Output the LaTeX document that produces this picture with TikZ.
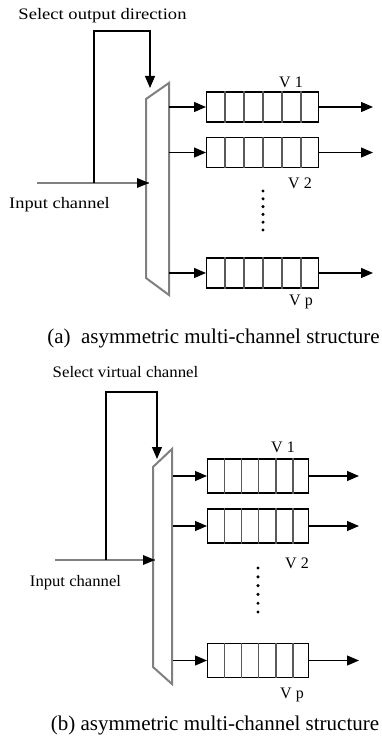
\documentclass[tikz,border=0pt]{standalone}
\usepackage{fontspec}
\setmainfont{Liberation Serif}
\usetikzlibrary{arrows.meta}

\tikzset{
  lbl/.style={inner sep=0pt, font=\fontsize{16}{16}\selectfont},
  captext/.style={inner sep=0pt, font=\fontsize{21}{21}\selectfont},
  muxline/.style={draw=black!50, line width=2pt, line join=miter},
  inline/.style={draw=black!50, line width=2pt},
  wire/.style={draw=black, line width=1.1pt},
  tip/.style={-{Triangle[length=12pt,width=10pt]}},
  queue/.style={draw=black, line width=1.2pt, fill=white, inner sep=0pt},
  cell/.style={draw=black!65, line width=1.4pt},
  dot/.style={fill=black}
}

\begin{document}
\begin{tikzpicture}[x=1pt, y=-1pt]
\useasboundingbox (0,0) rectangle (381,746);
\fill[white] (0,0) rectangle (381,746);

% ================= (a) =================
\node[lbl] (ta) at (102.5,16) {\scalebox{1.16}[1]{Select output direction}};
\node[lbl] (ina) at (59.5,205) {\scalebox{1.15}[1]{Input channel}};

% multiplexer outline
\coordinate (ma-lt) at (146,99);
\coordinate (ma-rt) at (169,83);
\coordinate (ma-lb) at (146,278);
\coordinate (ma-rb) at (169,295);
\draw[muxline] (ma-rt) -- (ma-lt) -- (ma-lb) -- (ma-rb) -- cycle;

% input channel and selection loop
\coordinate (ia-s) at (37,183);
\coordinate (ia-e) at (149,183);
\coordinate (ia-j) at (94,183);
\coordinate (sa-1) at (94,31);
\coordinate (sa-2) at (150,31);
\coordinate (sa-e) at (150,88);
\draw[inline] (ia-s) -- (ia-e);
\draw[wire, tip] (ia-j) -- (sa-1) -- (sa-2) -- (sa-e);
\fill (ia-e) -- ++(-12,-5) -- ++(0,10) -- cycle;

% virtual channel queues
\foreach \n/\y in {qa1/107, qa2/152.5, qap/273}{
  \node[queue, minimum width=112pt, minimum height=30pt, anchor=west] (\n) at (206,\y) {};
  \foreach \i in {1,...,5}
    \draw[cell] ([xshift=\i*19pt]\n.north west) -- ([xshift=\i*19pt]\n.south west);
  \coordinate (\n-in) at (169,\y);
  \coordinate (\n-out) at (373,\y);
  \draw[wire, tip] (\n-in) -- (\n.west);
  \draw[wire, tip] (\n.east) -- (\n-out);
}
\node[lbl] (va1) at (291,82) {V 1};
\node[lbl] (va2) at (300,183) {V 2};
\node[lbl] (vap) at (301,302) {V p};
\foreach \k in {0,...,5}
  \fill[dot] (263,191+\k*7.8) circle (1.7pt);

\node[captext] (capa) at (213.5,338) {(a)\ \ asymmetric multi-channel structure};

% ================= (b) =================
\node[lbl] (tb) at (125.5,372) {\scalebox{1.05}[1]{Select virtual channel}};
\node[lbl] (inb) at (75.5,583) {\scalebox{1.04}[1]{Input channel}};

\coordinate (mb-lt) at (153,467);
\coordinate (mb-rt) at (172,449);
\coordinate (mb-lb) at (153,667);
\coordinate (mb-rb) at (172,684);
\draw[muxline] (mb-rt) -- (mb-lt) -- (mb-lb) -- (mb-rb) -- cycle;

\coordinate (ib-s) at (55,560);
\coordinate (ib-e) at (155,560);
\coordinate (ib-j) at (106,560);
\coordinate (sb-1) at (106,392);
\coordinate (sb-2) at (157,392);
\coordinate (sb-e) at (157,459);
\draw[inline] (ib-s) -- (ib-e);
\draw[wire, tip] (ib-j) -- (sb-1) -- (sb-2) -- (sb-e);
\fill (ib-e) -- ++(-12,-5) -- ++(0,10) -- cycle;

\foreach \n/\y in {qb1/476, qb2/526, qbp/660.5}{
  \node[queue, minimum width=101pt, minimum height=34pt, anchor=west] (\n) at (207,\y) {};
  \foreach \i in {1,...,5}
    \draw[cell] ([xshift=\i*17.2pt]\n.north west) -- ([xshift=\i*17.2pt]\n.south west);
  \coordinate (\n-in) at (173,\y);
  \coordinate (\n-out) at (359,\y);
  \draw[wire, tip] (\n-in) -- (\n.west);
  \draw[wire, tip] (\n.east) -- (\n-out);
}
\node[lbl] (vb1) at (283,447) {V 1};
\node[lbl] (vb2) at (297,563) {V 2};
\node[lbl] (vbp) at (292,695) {V p};
\foreach \k in {0,...,5}
  \fill[dot] (258,568+\k*8.8) circle (1.7pt);

\node[captext] (capb) at (215,725) {(b) asymmetric multi-channel structure};
\end{tikzpicture}
\end{document}
